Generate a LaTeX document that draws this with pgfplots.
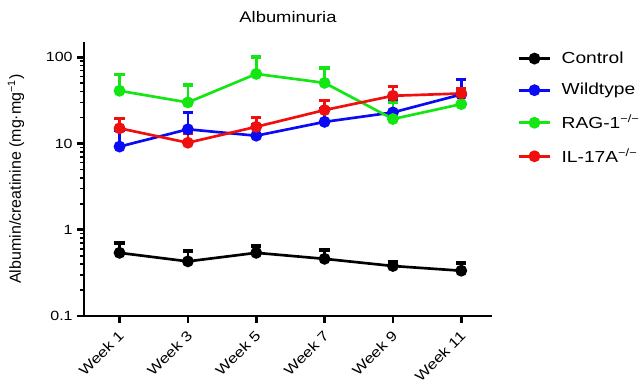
\documentclass[border=0pt]{standalone}
\usepackage{pgfplots}
\pgfplotsset{compat=1.18}
\usepackage{fontspec}
\setmainfont[FakeStretch=1.2]{Liberation Sans}
\newfontfamily\plainfont{Liberation Sans}
\begin{document}
\begin{tikzpicture}
\definecolor{cgreen}{RGB}{20,230,20}
\definecolor{cblue}{RGB}{10,10,245}
\definecolor{cred}{RGB}{240,15,15}
\path[use as bounding box] (0,0) rectangle (480.75pt,287.25pt);
\begin{axis}[
  at={(63pt,50.25pt)}, anchor=south west,
  scale only axis, width=306pt, height=205.5pt,
  ymode=log, ymin=0.1, ymax=150,
  xmin=-0.52, xmax=5.45,
  axis lines=left, axis line style={line width=2.2pt, -},
  xtick={0,1,2,3,4,5},
  xticklabels={Week 1,Week 3,Week 5,Week 7,Week 9,Week 11},
  x tick label style={rotate=45, anchor=north east, font=\fontsize{10.5}{12}\selectfont, inner sep=2.5pt, xshift=-2pt},
  ytick={0.1,1,10,100}, yticklabels={0.1,1,10,100},
  y tick label style={font=\fontsize{10}{12}\selectfont},
  /pgf/number format/assume math mode=true,
  tick align=outside, tick pos=left,
  major tick length=5pt, minor tick length=3pt,
  tick style={line width=2pt, black},
  minor tick style={line width=1.2pt},
  ylabel={Albumin/creatinine (mg·mg\textsuperscript{−1})},
  ylabel style={font=\plainfont\fontsize{12}{13}\selectfont, at={(axis description cs:-0.135,0.5)}},
  title={Albuminuria}, title style={font=\fontsize{11.5}{13}\selectfont, at={(axis description cs:0.5,1.025)}},
  legend style={at={(axis description cs:1.063,0.975)}, anchor=north west, draw=none, fill=none,
    font=\fontsize{12}{14}\selectfont, row sep=9.5pt, inner sep=0pt, nodes={inner xsep=8pt}},
  legend cell align=left,
  legend image code/.code={\draw[#1, mark repeat=2, mark phase=2] plot coordinates {(0cm,0cm)(0.4cm,0cm)(0.8cm,0cm)};},
  every axis plot/.append style={line width=2pt, mark=*, mark size=3.4pt,
     error bars/y dir=plus, error bars/y explicit, error bars/error mark=-,
     error bars/error bar style={line width=2pt},
     error bars/error mark options={mark size=3.8pt, line width=2.6pt, rotate=90}},
  clip=false,
]
\addplot[black, mark options={fill=black}] table[x=x, y=y, y error=e] {
x y e
0 0.54 0.16
1 0.43 0.14
2 0.54 0.11
3 0.46 0.12
4 0.38 0.05
5 0.335 0.075
};
\addlegendentry{Control}
\addplot[cblue, mark options={fill=cblue}] table[x=x, y=y, y error=e] {
x y e
0 9.2 5.1
1 14.6 8.1
2 12.3 4.0
3 17.8 7.7
4 22.9 8.9
5 37 18
};
\addlegendentry{Wildtype}
\addplot[cgreen, mark options={fill=cgreen}] table[x=x, y=y, y error=e] {
x y e
0 40.8 22.2
1 29.9 17.6
2 64 36
3 50.4 24.6
4 19.2 10.8
5 28.6 12.9
};
\addlegendentry{RAG-1\textsuperscript{−/−}}
\addplot[cred, mark options={fill=cred}] table[x=x, y=y, y error=e] {
x y e
0 15 4.5
1 10.2 3.0
2 15.6 4.4
3 24.4 6.9
4 35.7 10.3
5 38 5.5
};
\addlegendentry{IL-17A\textsuperscript{−/−}}
\end{axis}
\end{tikzpicture}
\end{document}
